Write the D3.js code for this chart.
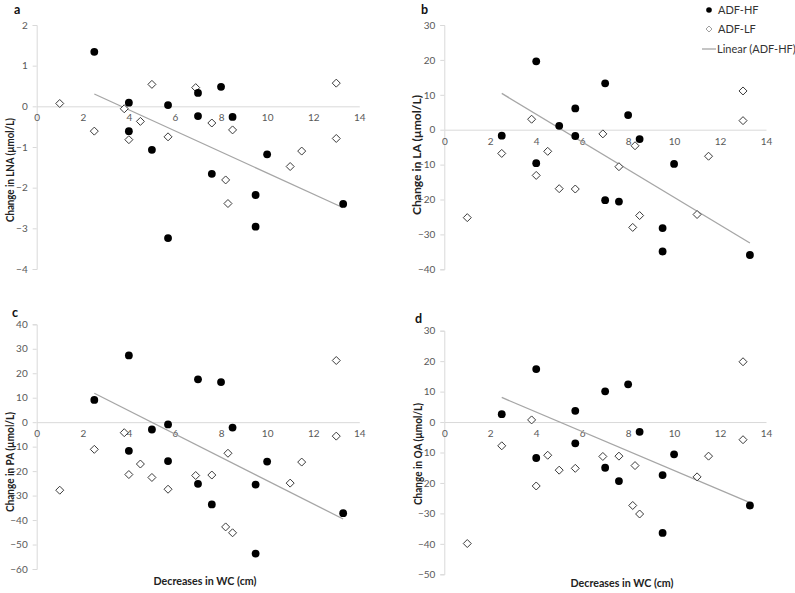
<!DOCTYPE html>
<html>
<head>
<meta charset="utf-8">
<script src="https://cdn.jsdelivr.net/npm/d3@7"></script>
<style>
  html, body { margin: 0; padding: 0; background: #fff; }
  svg { display: block; font-family: "Lato", "Liberation Sans", sans-serif; }
</style>
</head>
<body>
<svg id="chart" width="795" height="593"></svg>
<script>
// ---------- data ----------
const xTicks = [0, 2, 4, 6, 8, 10, 12, 14];

// Decreases in WC (cm) for each subject
const hfX = [2.5, 4, 4, 5, 5.7, 5.7, 7, 7, 7.6, 8, 8.5, 9.5, 9.5, 10, 13.3];
const lfX = [1, 2.5, 3.8, 4, 4.5, 5, 5.7, 6.9, 7.6, 8.2, 8.3, 8.5, 11, 11.5, 13, 13];

// Panel a: Change in LNA
const lnaHF = [1.34, 0.09, -0.61, -1.07, 0.03, -3.24, 0.33, -0.24, -1.66, 0.48, -0.26, -2.18, -2.96, -1.18, -2.40];
const lnaLF = [0.07, -0.61, -0.06, -0.82, -0.37, 0.54, -0.75, 0.46, -0.41, -1.81, -2.39, -0.58, -1.48, -1.10, 0.57, -0.79];
const lnaTicks = [-4, -3, -2, -1, 0, 1, 2];

// Panel b: Change in LA
const laHF = [-1.7, 19.6, -9.6, 1.1, 6.1, -1.8, 13.3, -20.2, -20.6, 4.2, -2.7, -28.2, -34.9, -9.8, -35.9];
const laLF = [-25.2, -6.8, 3.0, -13.1, -6.2, -16.9, -17.0, -1.2, -10.6, -28.0, -4.6, -24.6, -24.3, -7.6, 11.1, 2.6];
const laTicks = [-40, -30, -20, -10, 0, 10, 20, 30];

// Panel c: Change in PA
const paHF = [9.1, 27.3, -11.7, -3.0, -0.9, -15.9, 17.5, -25.2, -33.6, 16.4, -2.2, -25.5, -53.7, -16.1, -37.2];
const paLF = [-27.8, -11.1, -4.3, -21.4, -17.1, -22.6, -27.4, -21.8, -21.6, -42.8, -12.7, -45.2, -24.9, -16.3, 25.2, -5.7];
const paTicks = [-60, -50, -40, -30, -20, -10, 0, 10, 20, 30, 40];

// Panel d: Change in OA (no HF value at x = 5)
const oaHF = [2.6, 17.4, -11.8, null, 3.7, -7.0, 10.1, -15.0, -19.4, 12.4, -3.2, -17.4, -36.4, -10.6, -27.4];
const oaLF = [-39.9, -7.8, 0.7, -21.0, -10.9, -15.8, -15.2, -11.3, -11.2, -27.4, -14.3, -30.2, -18.0, -11.2, 19.8, -5.8];
const oaTicks = [-50, -40, -30, -20, -10, 0, 10, 20, 30];

const seriesNames = ["ADF-HF", "ADF-LF", "Linear (ADF-HF)"];
const xTitle = "Decreases in WC (cm)";

// ---------- layout ----------
const panels = [
  { label: "a", title: "Change in LNA (\u00b5mol/L)", hf: lnaHF, lf: lnaLF, ticks: lnaTicks,
    xr: [36.7, 359.3], yr: [269, 25], lab: [14, 14], yt: [10, 170, 104], xt: null },
  { label: "b", title: "Change in LA (\u00b5mol/L)", hf: laHF, lf: laLF, ticks: laTicks,
    xr: [444.3, 766], yr: [269.3, 25], lab: [421, 14], yt: [417, 155, 120], xt: null },
  { label: "c", title: "Change in PA (\u00b5mol/L)", hf: paHF, lf: paLF, ticks: paTicks,
    xr: [36.7, 359.3], yr: [569, 324.3], lab: [12, 316.5], yt: [9.5, 462, 100], xt: [205, 585] },
  { label: "d", title: "Change in OA (\u00b5mol/L)", hf: oaHF, lf: oaLF, ticks: oaTicks,
    xr: [444.3, 766], yr: [574.3, 330.7], lab: [415, 323], yt: [417.5, 454, 102], xt: [622, 587] }
];

const svg = d3.select("#chart");
const axisCol = "#d9d9d9", tickTxt = "#595959", trendCol = "#a6a6a6";

function diamond(g, cx, cy, s, stroke, sw) {
  g.append("path")
    .attr("d", `M${cx},${cy - s}L${cx + s},${cy}L${cx},${cy + s}L${cx - s},${cy}Z`)
    .attr("fill", "#fff").attr("stroke", stroke).attr("stroke-width", sw);
}

panels.forEach(p => {
  const yMin = d3.min(p.ticks), yMax = d3.max(p.ticks);
  const x = d3.scaleLinear().domain([0, 14]).range(p.xr);
  const y = d3.scaleLinear().domain([yMin, yMax]).range(p.yr);
  const g = svg.append("g");

  // y axis
  const yAxis = d3.axisLeft(y).tickValues(p.ticks).tickSize(4).tickPadding(5).tickFormat(d3.format("d"));
  const ya = g.append("g").attr("transform", `translate(${x(0)},0)`).call(yAxis);
  ya.select(".domain").attr("stroke", axisCol);
  ya.selectAll(".tick line").attr("stroke", axisCol);
  ya.selectAll(".tick text").attr("fill", tickTxt).style("font-size", "10px").style("font-family", "Lato");

  // x axis at y = 0
  const xAxis = d3.axisBottom(x).tickValues(xTicks).tickSize(0).tickPadding(8).tickFormat(d3.format("d"));
  const xa = g.append("g").attr("transform", `translate(0,${y(0)})`).call(xAxis);
  xa.select(".domain").attr("stroke", axisCol);
  xa.selectAll(".tick text").attr("fill", tickTxt).style("font-size", "10px").style("font-family", "Lato");

  // trend line (least squares on HF)
  const pts = hfX.map((xv, i) => [xv, p.hf[i]]).filter(d => d[1] !== null);
  const mx = d3.mean(pts, d => d[0]), my = d3.mean(pts, d => d[1]);
  const sxy = d3.sum(pts, d => (d[0] - mx) * (d[1] - my));
  const sxx = d3.sum(pts, d => (d[0] - mx) ** 2);
  const slope = sxy / sxx, icpt = my - slope * mx;
  const x0 = d3.min(pts, d => d[0]), x1 = d3.max(pts, d => d[0]);
  g.append("line")
    .attr("x1", x(x0)).attr("y1", y(icpt + slope * x0))
    .attr("x2", x(x1)).attr("y2", y(icpt + slope * x1))
    .attr("stroke", trendCol).attr("stroke-width", 1.3);

  // LF diamonds
  lfX.forEach((xv, i) => diamond(g, x(xv), y(p.lf[i]), 4, "#3a3a3a", 1));

  // HF circles
  g.selectAll("circle.hf").data(pts).enter().append("circle")
    .attr("class", "hf")
    .attr("cx", d => x(d[0])).attr("cy", d => y(d[1])).attr("r", 3.9)
    .attr("fill", "#000");

  // panel letter
  g.append("text").attr("x", p.lab[0]).attr("y", p.lab[1])
    .attr("font-size", 12.5).attr("font-weight", "bold").attr("fill", "#111").text(p.label);

  // y title
  g.append("text")
    .attr("transform", `translate(${p.yt[0] + 4},${p.yt[1]}) rotate(-90)`)
    .attr("text-anchor", "middle")
    .attr("font-size", 11.5).attr("font-weight", "bold").attr("fill", "#222")
    .attr("textLength", p.yt[2]).attr("lengthAdjust", "spacingAndGlyphs")
    .text(p.title);

  // x title
  if (p.xt) {
    g.append("text").attr("x", p.xt[0]).attr("y", p.xt[1])
      .attr("text-anchor", "middle")
      .attr("font-size", 12).attr("font-weight", "bold").attr("fill", "#222")
      .attr("textLength", 103).attr("lengthAdjust", "spacingAndGlyphs")
      .text(xTitle);
  }
});

// ---------- legend ----------
const lg = svg.append("g");
const lx = 709, ly = [10, 29, 49];
lg.append("circle").attr("cx", lx).attr("cy", ly[0]).attr("r", 2.8).attr("fill", "#000");
diamond(lg, lx, ly[1], 3, "#a0a0a0", 1);
lg.append("line").attr("x1", 702).attr("x2", 716).attr("y1", ly[2]).attr("y2", ly[2])
  .attr("stroke", trendCol).attr("stroke-width", 1.3);
seriesNames.forEach((n, i) => {
  lg.append("text").attr("x", i === 2 ? 717 : 718).attr("y", ly[i]).attr("dy", "0.35em")
    .attr("font-size", 11).attr("fill", "#333").text(n);
});
</script>
</body>
</html>
